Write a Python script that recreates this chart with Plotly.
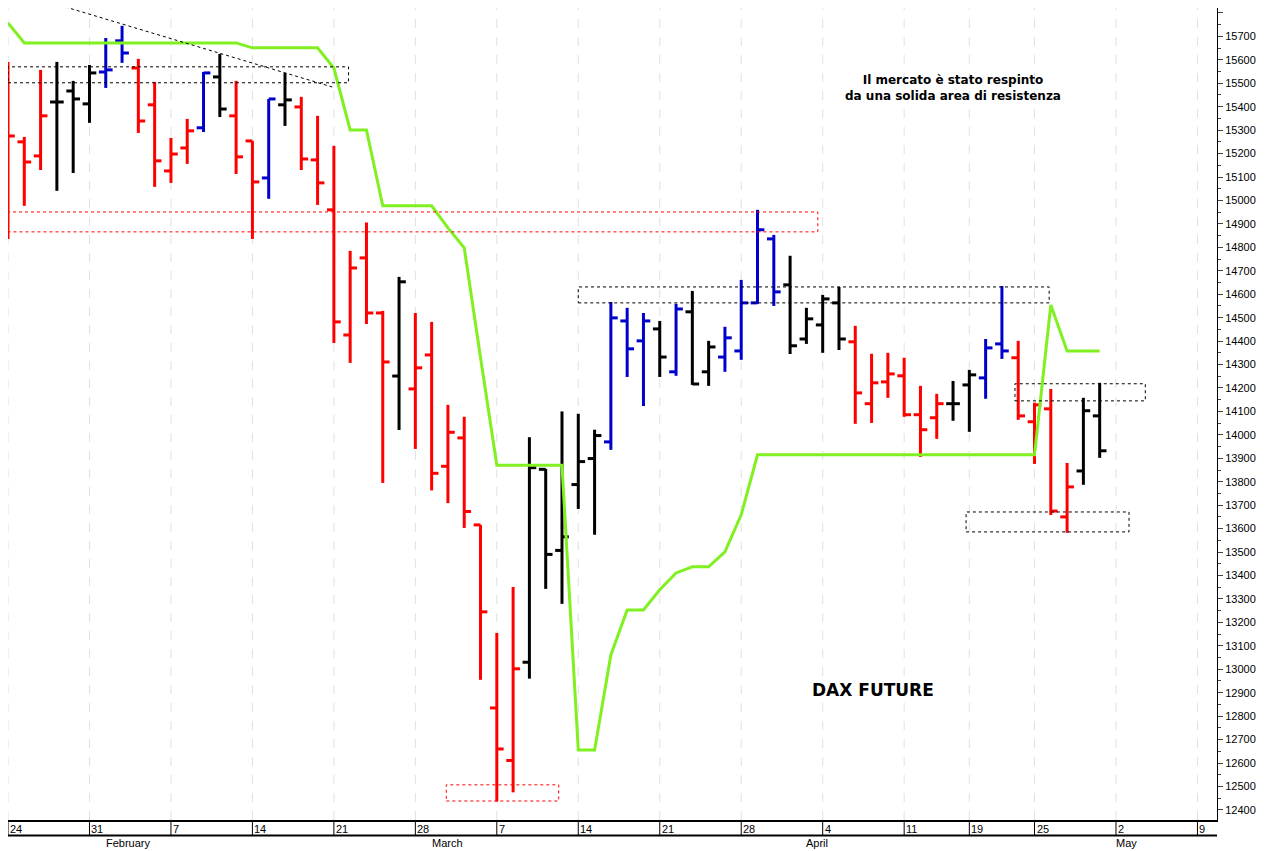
import plotly.graph_objects as go

# trading-day index 0 = 24 Jan 2022
opens = [15527, 15250, 15190, 15420, 15467, 15412, 15548, 15681, 15565, 15408,
         15126, 15224, 15310, 15527, 15361, 15254, 15096, 15408, 15399, 15173,
         14960, 14426, 14755, 14520, 14251, 14196, 14341, 13866, 13987, 13616,
         12835, 12611, 13030, 13853, 13507, 13788, 13899, 13970, 14486, 14401,
         14452, 14269, 14525, 14269, 14332, 14358, 14563, 14836, 14640, 14409,
         14469, 14563, 14397, 14133, 14226, 14252, 14086, 14073, 14133, 14213,
         14243, 14388, 14329, 14056, 14111, 13650, 13846, 14081]
highs = [15591, 15271, 15557, 15591, 15510, 15578, 15693, 15745, 15604, 15506,
         15267, 15348, 15548, 15625, 15510, 15254, 15433, 15544, 15442, 15361,
         15233, 14785, 14906, 14529, 14674, 14520, 14482, 14128, 14077, 13616,
         13155, 13351, 13990, 13855, 14100, 14090, 14022, 14567, 14542, 14520,
         14486, 14559, 14614, 14401, 14461, 14661, 14960, 14853, 14764, 14542,
         14597, 14631, 14465, 14346, 14350, 14329, 14209, 14175, 14230, 14277,
         14409, 14635, 14401, 14137, 14196, 13880, 14158, 14222]
lows = [14836, 14977, 15130, 15041, 15117, 15331, 15480, 15587, 15288, 15058,
        15075, 15156, 15292, 15356, 15113, 14836, 15007, 15318, 15130, 14981,
        14392, 14307, 14473, 13795, 14021, 13940, 13763, 13709, 13603, 12955,
        12436, 12475, 12960, 13343, 13279, 13684, 13574, 13936, 14247, 14123,
        14247, 14252, 14213, 14209, 14269, 14320, 14559, 14550, 14345, 14388,
        14350, 14362, 14047, 14051, 14158, 14077, 13906, 13983, 14060, 14013,
        14154, 14324, 14064, 13876, 13658, 13582, 13787, 13902]
closes = [15275, 15164, 15361, 15420, 15433, 15544, 15557, 15629, 15339, 15169,
          15198, 15297, 15544, 15390, 15186, 15079, 15433, 15429, 15177, 15075,
          14482, 14712, 14520, 14311, 14653, 14286, 13836, 14011, 13673, 13245,
          12660, 13002, 13860, 13490, 13565, 13886, 13997, 14499, 14367, 14486,
          14332, 14537, 14217, 14375, 14414, 14563, 14875, 14610, 14380, 14495,
          14580, 14409, 14179, 14222, 14260, 14086, 14022, 14133, 14133, 14256,
          14371, 14358, 14081, 14128, 13675, 13778, 14103, 13932]
colors = list("RRRKKKBBRRRRBKRRBKRR" "RRRRKRRRRR" "RRKKKKKB" "BBKBKKBBBBKKKK"
              "RRRRRRKKBBRRRRKK")
stop_line = [15757, 15672, 15672, 15672, 15672, 15672, 15672, 15672, 15672, 15672,
             15672, 15672, 15672, 15672, 15672, 15651, 15651, 15651, 15651, 15651,
             15565, 15301, 15301, 14977, 14977, 14977, 14977, 14883, 14798, 14330,
             13870, 13870, 13870, 13870, 13870, 12656, 12656, 13061, 13253, 13253,
             13339, 13411, 13437, 13437, 13501, 13659, 13915, 13915, 13915, 13915,
             13915, 13915, 13915, 13915, 13915, 13915, 13915, 13915, 13915, 13915,
             13915, 13915, 13915, 13915, 14554, 14358, 14358, 14358]

week_idx = [0, 5, 10, 15, 20, 25, 30, 35, 40, 45, 50, 55, 59, 63, 68, 73]
week_lbl = ["24", "31", "7", "14", "21", "28", "7", "14", "21", "28", "4", "11", "19", "25", "2", "9"]
month_idx = [6, 26, 49, 68]
month_lbl = ["February", "March", "April", "May"]
price_ticks = list(range(12400, 15801, 100))

# zones: (x0, x1, y0, y1, colour)
zones = [(0, 20.9, 15502, 15570, "black"), (-0.4, 49.7, 14866, 14951, "red"),
         (35, 63.9, 14563, 14631, "black"), (61.8, 69.8, 14145, 14218, "black"),
         (58.8, 68.8, 13586, 13671, "black"), (26.9, 33.8, 12438, 12507, "red")]

COL = {"R": "#ff0000", "K": "#000000", "B": "#0000cc"}
TW = 0.42
AXFONT = dict(family="Liberation Sans", size=11, color="black")

fig = go.Figure()
for key, col in COL.items():
    xs, ys = [], []
    for i, c in enumerate(colors):
        if c != key:
            continue
        xs += [i, i, None, i - TW, i, None, i, i + TW, None]
        ys += [lows[i], highs[i], None, opens[i], opens[i], None, closes[i], closes[i], None]
    fig.add_trace(go.Scatter(x=xs, y=ys, mode="lines", line=dict(color=col, width=3),
                             hoverinfo="skip", showlegend=False))

fig.add_trace(go.Scatter(x=list(range(len(stop_line))), y=stop_line, mode="lines",
                         line=dict(color="#80f020", width=3), showlegend=False))

for x0, x1, y0, y1, c in zones:
    fig.add_shape(type="rect", x0=x0, x1=x1, y0=y0, y1=y1,
                  line=dict(color=c, width=1, dash="dot"))
fig.add_shape(type="line", x0=2.1, x1=19.9, y0=15855, y1=15484,
              line=dict(color="black", width=1, dash="dot"))

for i in week_idx:
    fig.add_shape(type="line", xref="x", yref="paper", x0=i, x1=i, y0=0, y1=1,
                  line=dict(color="#e0e0e8", width=1, dash="dash"), layer="below")
    fig.add_shape(type="line", xref="x", yref="paper", x0=i, x1=i, y0=0, y1=-0.019,
                  line=dict(color="black", width=1))
for i, t in zip(week_idx, week_lbl):
    fig.add_annotation(x=i, y=-0.001, xref="x", yref="paper", text=t, showarrow=False,
                       xanchor="left", yanchor="top", xshift=0, font=AXFONT)
for i, t in zip(month_idx, month_lbl):
    fig.add_annotation(x=i, y=-0.019, xref="x", yref="paper", text=t, showarrow=False,
                       xanchor="left", yanchor="top", xshift=-2, font=AXFONT)
fig.add_shape(type="line", xref="paper", yref="paper", x0=0, x1=1, y0=-0.019, y1=-0.019,
              line=dict(color="black", width=2))

fig.add_annotation(x=58, y=15480, text="<b>Il mercato è stato respinto<br>da una solida area di resistenza</b>",
                   showarrow=False, font=dict(family="DejaVu Sans", size=12, color="black"))
fig.add_annotation(x=53.1, y=12910, text="<b>DAX FUTURE</b>", showarrow=False,
                   font=dict(family="DejaVu Sans", size=17, color="black"))

fig.update_layout(
    width=1258, height=843, margin=dict(l=0, r=49, t=0, b=31),
    plot_bgcolor="white", paper_bgcolor="white",
    xaxis=dict(range=[0, 74.2], showticklabels=False, showgrid=False, zeroline=False,
               showline=True, linecolor="black", linewidth=2),
    yaxis=dict(range=[12357, 15821], side="right", tickvals=price_ticks,
               ticktext=[str(v) for v in price_ticks],
               showgrid=False, zeroline=False, showline=True, linecolor="black", linewidth=1,
               ticks="outside", ticklen=5, tickfont=AXFONT,
               minor=dict(dtick=50, ticks="outside", ticklen=3)),
)
fig.write_html("out.html")
